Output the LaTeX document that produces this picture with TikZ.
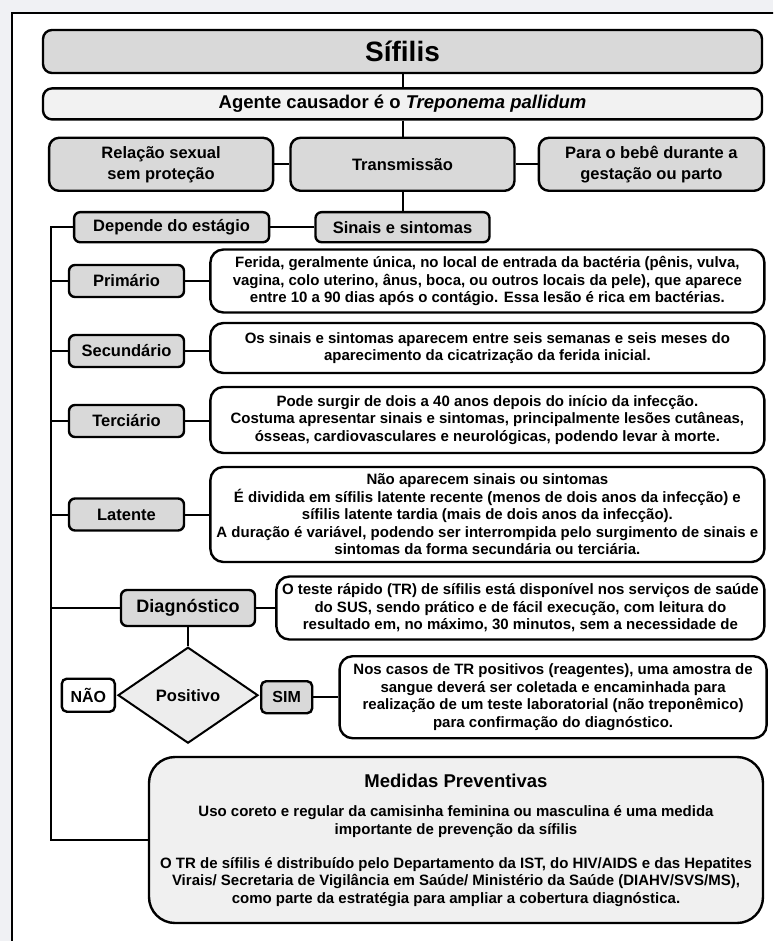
\documentclass[tikz,border=0pt]{standalone}
\usepackage{fontspec}
\setmainfont{Liberation Sans}
\usepackage{tikz}
\usetikzlibrary{positioning, shapes.geometric}
\definecolor{boxgray}{gray}{0.85}
\definecolor{palegray}{gray}{0.95}
\definecolor{bggray}{RGB}{240,241,244}
\newcommand{\rotulofont}{\fontsize{16.5}{21}\selectfont\bfseries}
\newcommand{\corpofont}{\fontsize{15}{17.5}\selectfont\bfseries}

\begin{document}
\begin{tikzpicture}[x=1pt,y=1pt]
 \tikzstyle{caixa}=[rectangle,draw=black,line width=2.4pt,text=black,
   align=center,inner sep=2pt]
 \tikzstyle{cinza}=[caixa,fill=boxgray,rounded corners=6pt,font=\rotulofont]
 \tikzstyle{estagio}=[cinza,minimum width=115pt,minimum height=32pt]
 \tikzstyle{texto}=[caixa,fill=white,rounded corners=13pt,font=\corpofont,
   minimum width=554pt]
 \tikzstyle{ligacao}=[line width=2pt]
 % fundo e moldura
 \useasboundingbox (0,0) rectangle (773,-941);
 \clip (0,0) rectangle (773,-941);
 \fill[bggray] (0,0) rectangle (773,-941);
 \draw[line width=2pt,fill=white] (12,-13) rectangle (790,-960);
 % topo
 \node (sifilis) [cinza,minimum width=719pt,minimum height=43pt,
   rounded corners=9pt,font=\fontsize{28}{30}\selectfont\bfseries]
   at (402.5,-51.5) {Sífilis};
 \node (agente) [caixa,fill=palegray,rounded corners=9pt,minimum width=719pt,
   minimum height=31pt,below=13pt of sifilis,
   font=\fontsize{18.5}{20}\selectfont\bfseries]
   {Agente causador é o \textit{Treponema pallidum}};
 \node (transm) [cinza,minimum width=224pt,minimum height=53pt,
   rounded corners=10pt,below=16pt of agente] {Transmissão};
 \node (relacao) [cinza,minimum width=224pt,minimum height=53pt,
   rounded corners=10pt,left=15pt of transm] {Relação sexual\\sem proteção};
 \node (bebe) [cinza,minimum width=225pt,minimum height=53pt,
   rounded corners=10pt,right=22pt of transm]
   {Para o bebê durante a\\gestação ou parto};
 \node (sinais) [cinza,minimum width=174pt,minimum height=30pt,
   below=19pt of transm] {Sinais e sintomas};
 \node (depende) [cinza,minimum width=195pt,minimum height=30pt,
   left=44pt of sinais] {Depende do estágio};
 % estágios
 \node (primario) [estagio] at (126.5,-281) {Primário};
 \node (primtxt) [texto,minimum height=63pt,right=24pt of primario]
   {Ferida, geralmente única, no local de entrada da bactéria (pênis, vulva,\\
   vagina, colo uterino, ânus, boca, ou outros locais da pele), que aparece\\
   entre 10 a 90 dias após o contágio. Essa lesão é rica em bactérias.};
 \node (secundario) [estagio] at (126.5,-351) {Secundário};
 \node (sectxt) [texto,minimum height=50pt,right=24pt of secundario,yshift=3pt]
   {Os sinais e sintomas aparecem entre seis semanas e seis meses do\\
   aparecimento da cicatrização da ferida inicial.};
 \node (terciario) [estagio] at (126.5,-421) {Terciário};
 \node (terctxt) [texto,minimum height=66pt,right=24pt of terciario,yshift=1pt]
   {Pode surgir de dois a 40 anos depois do início da infecção.\\
   Costuma apresentar sinais e sintomas, principalmente lesões cutâneas,\\
   ósseas, cardiovasculares e neurológicas, podendo levar à morte.};
 \node (latente) [estagio] at (126.5,-514.5) {Latente};
 \node (lattxt) [texto,minimum height=95pt,right=24pt of latente]
   {Não aparecem sinais ou sintomas\\
   É dividida em sífilis latente recente (menos de dois anos da infecção) e\\
   sífilis latente tardia (mais de dois anos da infecção).\\
   A duração é variável, podendo ser interrompida pelo surgimento de sinais e\\
   sintomas da forma secundária ou terciária.};
 % diagnóstico
 \node (diag) [cinza,minimum width=134pt,minimum height=36pt,
   font=\fontsize{18}{20}\selectfont\bfseries] at (188,-608) {Diagnóstico};
 \node (diagtxt) [texto,minimum width=488pt,minimum height=63pt,
   right=19pt of diag]
   {O teste rápido (TR) de sífilis está disponível nos serviços de saúde\\
   do SUS, sendo prático e de fácil execução, com leitura do\\
   resultado em, no máximo, 30 minutos, sem a necessidade de};
 \node (positivo) [diamond,draw=black,line width=2pt,fill=black!7,
   minimum width=140pt,minimum height=96pt,inner sep=0pt,
   below=19pt of diag,font=\rotulofont] {Positivo};
 \node (nao) [caixa,fill=white,rounded corners=5pt,minimum width=53pt,
   minimum height=33pt,left=1pt of positivo,
   font=\fontsize{16}{18}\selectfont\bfseries] {NÃO};
 \node (sim) [cinza,rounded corners=5pt,minimum width=51pt,minimum height=32pt,
   right=1pt of positivo,yshift=-2pt,
   font=\fontsize{16}{18}\selectfont\bfseries] {SIM};
 \node (simtxt) [texto,minimum width=427pt,minimum height=82pt,
   right=25pt of sim]
   {Nos casos de TR positivos (reagentes), uma amostra de\\
   sangue deverá ser coletada e encaminhada para\\
   realização de um teste laboratorial (não treponêmico)\\
   para confirmação do diagnóstico.};
 % medidas preventivas
 \node (medidas) [caixa,fill=black!6,rounded corners=26pt,minimum width=614pt,
   minimum height=166pt,font=\corpofont] at (456,-840)
   {{\fontsize{18.5}{20}\selectfont Medidas Preventivas}\\[12pt]
   Uso coreto e regular da camisinha feminina ou masculina é uma medida\\
   importante de prevenção da sífilis\\[16.5pt]
   O TR de sífilis é distribuído pelo Departamento da IST, do HIV/AIDS e das Hepatites\\
   Virais/ Secretaria de Vigilância em Saúde/ Ministério da Saúde (DIAHV/SVS/MS),\\
   como parte da estratégia para ampliar a cobertura diagnóstica.};
 % ligações
 \draw[ligacao] (sifilis) -- (agente);
 \draw[ligacao] (agente) -- (transm);
 \draw[ligacao] (relacao) -- (transm);
 \draw[ligacao] (transm) -- (bebe);
 \draw[ligacao] (transm) -- (sinais);
 \draw[ligacao] (sinais) -- (depende);
 \draw[ligacao] (depende.west) -- ++(-22pt,0) coordinate (espinha)
   |- (medidas.west);
 \draw[ligacao] (primario.west) -- (primario.west -| espinha);
 \draw[ligacao] (secundario.west) -- (secundario.west -| espinha);
 \draw[ligacao] (terciario.west) -- (terciario.west -| espinha);
 \draw[ligacao] (latente.west) -- (latente.west -| espinha);
 \draw[ligacao] (diag.west) -- (diag.west -| espinha);
 \draw[ligacao] (primario.east) -- (primario.east -| primtxt.west);
 \draw[ligacao] (secundario.east) -- (secundario.east -| sectxt.west);
 \draw[ligacao] (terciario.east) -- (terciario.east -| terctxt.west);
 \draw[ligacao] (latente.east) -- (latente.east -| lattxt.west);
 \draw[ligacao] (diag.east) -- (diag.east -| diagtxt.west);
 \draw[ligacao] (diag) -- (positivo);
 \draw[ligacao] (sim.east) -- (sim.east -| simtxt.west);
\end{tikzpicture}
\end{document}
